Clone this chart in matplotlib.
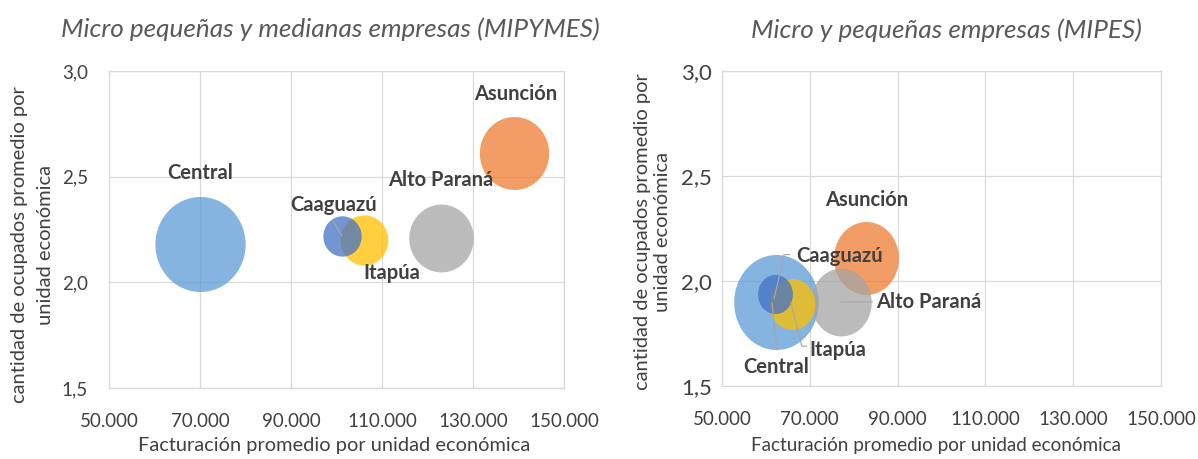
import numpy as np
import matplotlib
matplotlib.use("Agg")
import matplotlib.pyplot as plt
from matplotlib.path import Path
from matplotlib.ticker import FuncFormatter
from matplotlib.transforms import offset_copy

# ---------------- data ----------------
departamentos = ["Asunción", "Central", "Alto Paraná", "Itapúa", "Caaguazú"]
colores = ["#ED7D31", "#5B9BD5", "#A5A5A5", "#FFC000", "#4472C4"]

# Micro, pequeñas y medianas empresas (MIPYMES)
mipymes_facturacion = [139100, 70000, 122900, 106000, 101200]
mipymes_ocupados = [2.61, 2.18, 2.21, 2.20, 2.22]
mipymes_tamano = [59, 100, 51, 28, 18]

# Micro y pequeñas empresas (MIPES)
mipes_facturacion = [82900, 62300, 77200, 65900, 62100]
mipes_ocupados = [2.11, 1.90, 1.90, 1.89, 1.94]
mipes_tamano = [59, 100, 51, 29, 17]

x_ticks = [50000, 70000, 90000, 110000, 130000, 150000]
y_ticks = [1.5, 2.0, 2.5, 3.0]

titulo_izq = "Micro pequeñas y medianas empresas (MIPYMES)"
titulo_der = "Micro y pequeñas empresas (MIPES)"
x_titulo = "Facturación promedio por unidad económica"
y_titulo = "cantidad de ocupados promedio por\nunidad económica"

# ---------------- style ----------------
W, H = 1198, 459
FONT = "Lato"
plt.rcParams["font.family"] = [FONT, "DejaVu Sans"]
TXT = "#595959"
DARK = "#404040"
GRID = "#D9D9D9"
LEADER = "#A6A6A6"

fig = plt.figure(figsize=(W / 100, H / 100), dpi=100)


def px_axes(x0, y0, x1, y1):
    return fig.add_axes([x0 / W, 1 - y1 / H, (x1 - x0) / W, (y1 - y0) / H])


ax_l = px_axes(109, 71, 564, 388)
ax_r = px_axes(722, 71, 1161, 386)


def ellipse_marker(ratio):
    t = np.linspace(0, 2 * np.pi, 121)
    verts = np.column_stack([ratio * np.cos(t), np.sin(t)])
    return Path(verts, closed=True)


K = (0.72 * 9.5) ** 2  # marker area (pt^2) per unit of relative size

# label offsets (pixels, y up) relative to bubble centre
lab_l = {
    "Asunción": (1, 59, "center"),
    "Central": (0, 71, "center"),
    "Alto Paraná": (0, 58, "center"),
    "Itapúa": (28, -33, "center"),
    "Caaguazú": (-8, 31, "center"),
}
lab_r = {
    "Asunción": (0, 58, "center"),
    "Central": (0, -65, "center"),
    "Alto Paraná": (35, 0, "left"),
    "Itapúa": (18, -46, "left"),
    "Caaguazú": (21, 38, "left"),
}
# leader lines: polylines in pixel offsets relative to bubble centre
lead_l = {"Caaguazú": [(-9, 15), (0, 0)]}
lead_r = {
    "Caaguazú": [(15, 39), (9, 39), (-1, -5)],
    "Central": [(1, -48), (-4, -1)],
    "Itapúa": [(15, -42), (10, -42), (-1, 2)],
    "Alto Paraná": [(31, 0), (-1, 0)],
}


def draw(ax, xs, ys, sizes, ratio, labs, leads):
    order = np.argsort(sizes)[::-1]
    mk = ellipse_marker(ratio)
    for i in order:
        ax.scatter([xs[i]], [ys[i]], s=[K * sizes[i]], marker=mk,
                   color=colores[i], alpha=0.75, linewidths=0, zorder=3,
                   clip_on=False)
    for i, name in enumerate(departamentos):
        dx, dy, ha = labs[name]
        ax.annotate(name, xy=(xs[i], ys[i]), xytext=(dx, dy),
                    textcoords="offset pixels", ha=ha, va="center",
                    fontsize=14.5, fontweight="bold", color=DARK, zorder=6)
        if name in leads:
            pts = leads[name]
            for (ax0, ay0), (ax1, ay1) in zip(pts[:-1], pts[1:]):
                tr = offset_copy(ax.transData, fig=fig, x=ax0, y=ay0, units="dots")
                ax.annotate("", xy=(xs[i], ys[i]), xycoords=tr,
                            xytext=(ax1 - ax0, ay1 - ay0), textcoords="offset pixels",
                            arrowprops=dict(arrowstyle="-", color=LEADER, lw=0.8,
                                            shrinkA=0, shrinkB=0), zorder=5)


draw(ax_l, mipymes_facturacion, mipymes_ocupados, mipymes_tamano, 0.95, lab_l, lead_l)
draw(ax_r, mipes_facturacion, mipes_ocupados, mipes_tamano, 0.89, lab_r, lead_r)

for ax in (ax_l, ax_r):
    ax.set_xlim(50000, 150000)
    ax.set_ylim(1.5, 3.0)
    ax.set_xticks(x_ticks)
    ax.set_yticks(y_ticks)
    ax.xaxis.set_major_formatter(FuncFormatter(lambda v, p: f"{v:,.0f}".replace(",", ".")))
    ax.yaxis.set_major_formatter(FuncFormatter(lambda v, p: f"{v:.1f}".replace(".", ",")))
    ax.grid(True, color=GRID, lw=0.9)
    ax.set_axisbelow(True)
    for s in ax.spines.values():
        s.set_color(GRID)
        s.set_linewidth(0.9)
    ax.tick_params(axis="both", length=0, labelcolor=DARK)
    ax.tick_params(axis="x", pad=18, labelsize=13.5)

ax_l.tick_params(axis="y", pad=15, labelsize=13.5)
ax_r.tick_params(axis="y", pad=7, labelsize=16)


def ftext(x, y, s, **kw):
    fig.text(x / W, 1 - y / H, s, **kw)


ftext(330, 29, titulo_izq, ha="center", va="center", fontsize=18.8,
      style="italic", color=TXT)
ftext(946, 30, titulo_der, ha="center", va="center", fontsize=18.8,
      style="italic", color=TXT)
ftext(334, 445, x_titulo, ha="center", va="center", fontsize=14.4, color=DARK)
ftext(936, 445, x_titulo, ha="center", va="center", fontsize=13.6, color=DARK)
ftext(32.5, 245, y_titulo, ha="center", va="center", rotation=90, fontsize=14.5,
      color=DARK, multialignment="center", linespacing=1.6)
ftext(652.5, 232, y_titulo, ha="center", va="center", rotation=90, fontsize=14.5,
      color=DARK, multialignment="center", linespacing=1.2)

fig.savefig("out.png", dpi=100)
